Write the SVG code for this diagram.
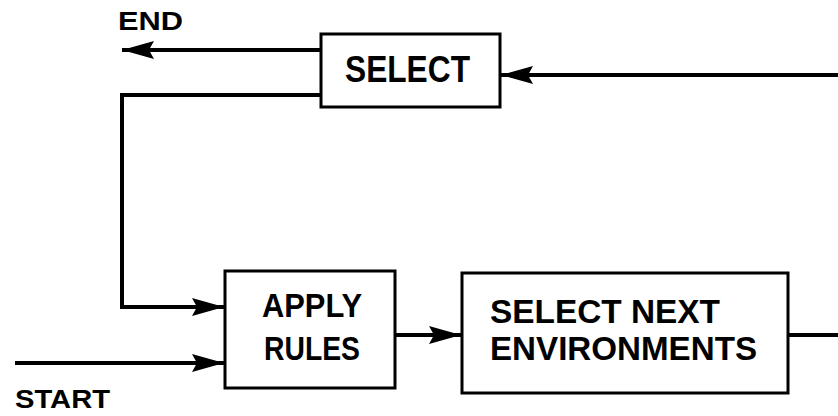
<svg xmlns="http://www.w3.org/2000/svg" width="838" height="416" viewBox="0 0 838 416">
<style>
.box{fill:#fff;stroke:#000;stroke-width:3}
.ln{fill:none;stroke:#000;stroke-width:4;stroke-linejoin:miter}
.t{font-family:"Liberation Sans",Arial,sans-serif;font-weight:bold;font-size:33px;fill:#000}
.lbl{font-family:"Liberation Sans",Arial,sans-serif;font-weight:bold;font-size:25px;fill:#000}
</style>
<defs>
<marker id="ah" markerUnits="userSpaceOnUse" markerWidth="40" markerHeight="24" viewBox="-34 -12 40 24" refX="0" refY="0" orient="auto">
<path d="M0,0 L-32,-9 L-27,0 L-32,9 Z" fill="#000"/>
</marker>
</defs>
<g id="connectors">
<path class="ln" d="M321,50 H122" marker-end="url(#ah)"/>
<path class="ln" d="M838,75 H501" marker-end="url(#ah)"/>
<path class="ln" d="M321,95 H122 V307 H224" marker-end="url(#ah)"/>
<path class="ln" d="M15,363 H224" marker-end="url(#ah)"/>
<path class="ln" d="M395,335 H461" marker-end="url(#ah)"/>
<path class="ln" d="M788,335 H838"/>
</g>
<g id="select">
<rect class="box" x="321" y="34" width="179" height="73"/>
<text class="t" x="345" y="82" style="font-size:36px" textLength="125" lengthAdjust="spacingAndGlyphs">SELECT</text>
</g>
<g id="apply-rules">
<rect class="box" x="225" y="271" width="170" height="117"/>
<text class="t" x="262" y="317" textLength="100" lengthAdjust="spacingAndGlyphs">APPLY</text>
<text class="t" x="264" y="360" textLength="96" lengthAdjust="spacingAndGlyphs">RULES</text>
</g>
<g id="select-next">
<rect class="box" x="462" y="273" width="326" height="120"/>
<text class="t" x="490" y="323" textLength="230" lengthAdjust="spacingAndGlyphs">SELECT NEXT</text>
<text class="t" x="490" y="360" textLength="267" lengthAdjust="spacingAndGlyphs">ENVIRONMENTS</text>
</g>
<g id="end-label">
<text class="lbl" x="118" y="30" textLength="65" lengthAdjust="spacingAndGlyphs">END</text>
</g>
<g id="start-label">
<text class="lbl" x="15" y="408" textLength="95" lengthAdjust="spacingAndGlyphs">START</text>
</g>
</svg>
